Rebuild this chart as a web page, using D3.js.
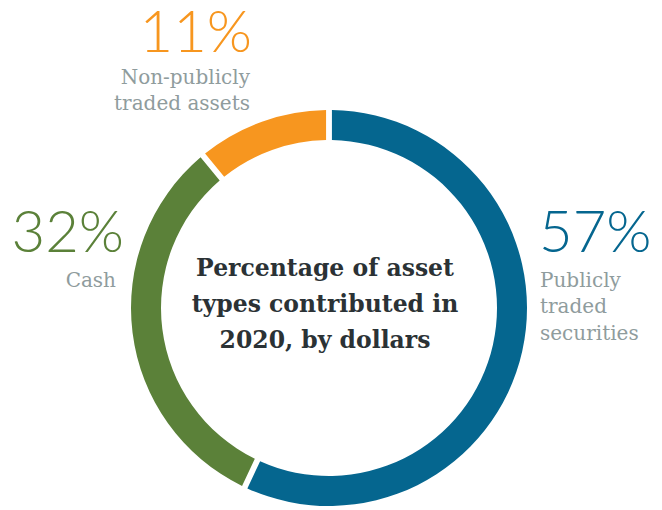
<!DOCTYPE html>
<html>
<head>
<meta charset="utf-8">
<script src="https://cdn.jsdelivr.net/npm/d3@7"></script>
<style>
  body { margin: 0; background: #fff; }
  .pct { font-family: Lato, "Open Sans", sans-serif; font-weight: 300; }
  .lbl { font-family: "DejaVu Serif", serif; fill: #8f9c9d; }
  .title { font-family: "DejaVu Serif", serif; font-weight: bold; fill: #2b3235; }
</style>
</head>
<body>
<div id="chart"></div>
<script>
// data
var categories = ["Publicly traded securities", "Cash", "Non-publicly traded assets"];
var values = [57, 32, 11];
var colors = ["#05668f", "#5b8139", "#f7961f"];
var labelLines = [["Publicly", "traded", "securities"], ["Cash"], ["Non-publicly", "traded assets"]];
var titleLines = ["Percentage of asset", "types contributed in", "2020, by dollars"];

var w = 662, h = 510;
var cx = 329, cy = 308, outerR = 198, innerR = 168;

var svg = d3.select("#chart").append("svg")
  .attr("width", w)
  .attr("height", h);

var g = svg.append("g").attr("transform", "translate(" + cx + "," + cy + ")");

var pie = d3.pie().sort(null).value(function(d) { return d; });
var arc = d3.arc()
  .innerRadius(innerR)
  .outerRadius(outerR)
  .padAngle(0.032)
  .padRadius(183);

g.selectAll("path")
  .data(pie(values))
  .enter()
  .append("path")
  .attr("d", arc)
  .attr("fill", function(d, i) { return colors[i]; });

// center title
var title = g.append("text").attr("class", "title")
  .attr("text-anchor", "middle")
  .style("font-size", "23.5px");
titleLines.forEach(function(t, i) {
  title.append("tspan").attr("x", -4).attr("y", -32 + i * 36).text(t);
});

// outside labels: [x, y, anchor, label x]
var labelPos = [[539, 252, "start", 540], [124, 252, "end", 116], [252, 52, "end", 250]];
var labelLineY = [[287, 313, 340], [287], [84, 110]];

values.forEach(function(v, i) {
  var p = labelPos[i];
  svg.append("text").attr("class", "pct")
    .attr("x", p[0]).attr("y", p[1])
    .attr("text-anchor", p[2])
    .attr("fill", colors[i])
    .style("font-size", "58px")
    .text(v + "%");
  labelLines[i].forEach(function(t, j) {
    svg.append("text").attr("class", "lbl")
      .attr("x", p[3])
      .attr("y", labelLineY[i][j])
      .attr("text-anchor", p[2])
      .style("font-size", "20px")
      .text(t);
  });
});
</script>
</body>
</html>
